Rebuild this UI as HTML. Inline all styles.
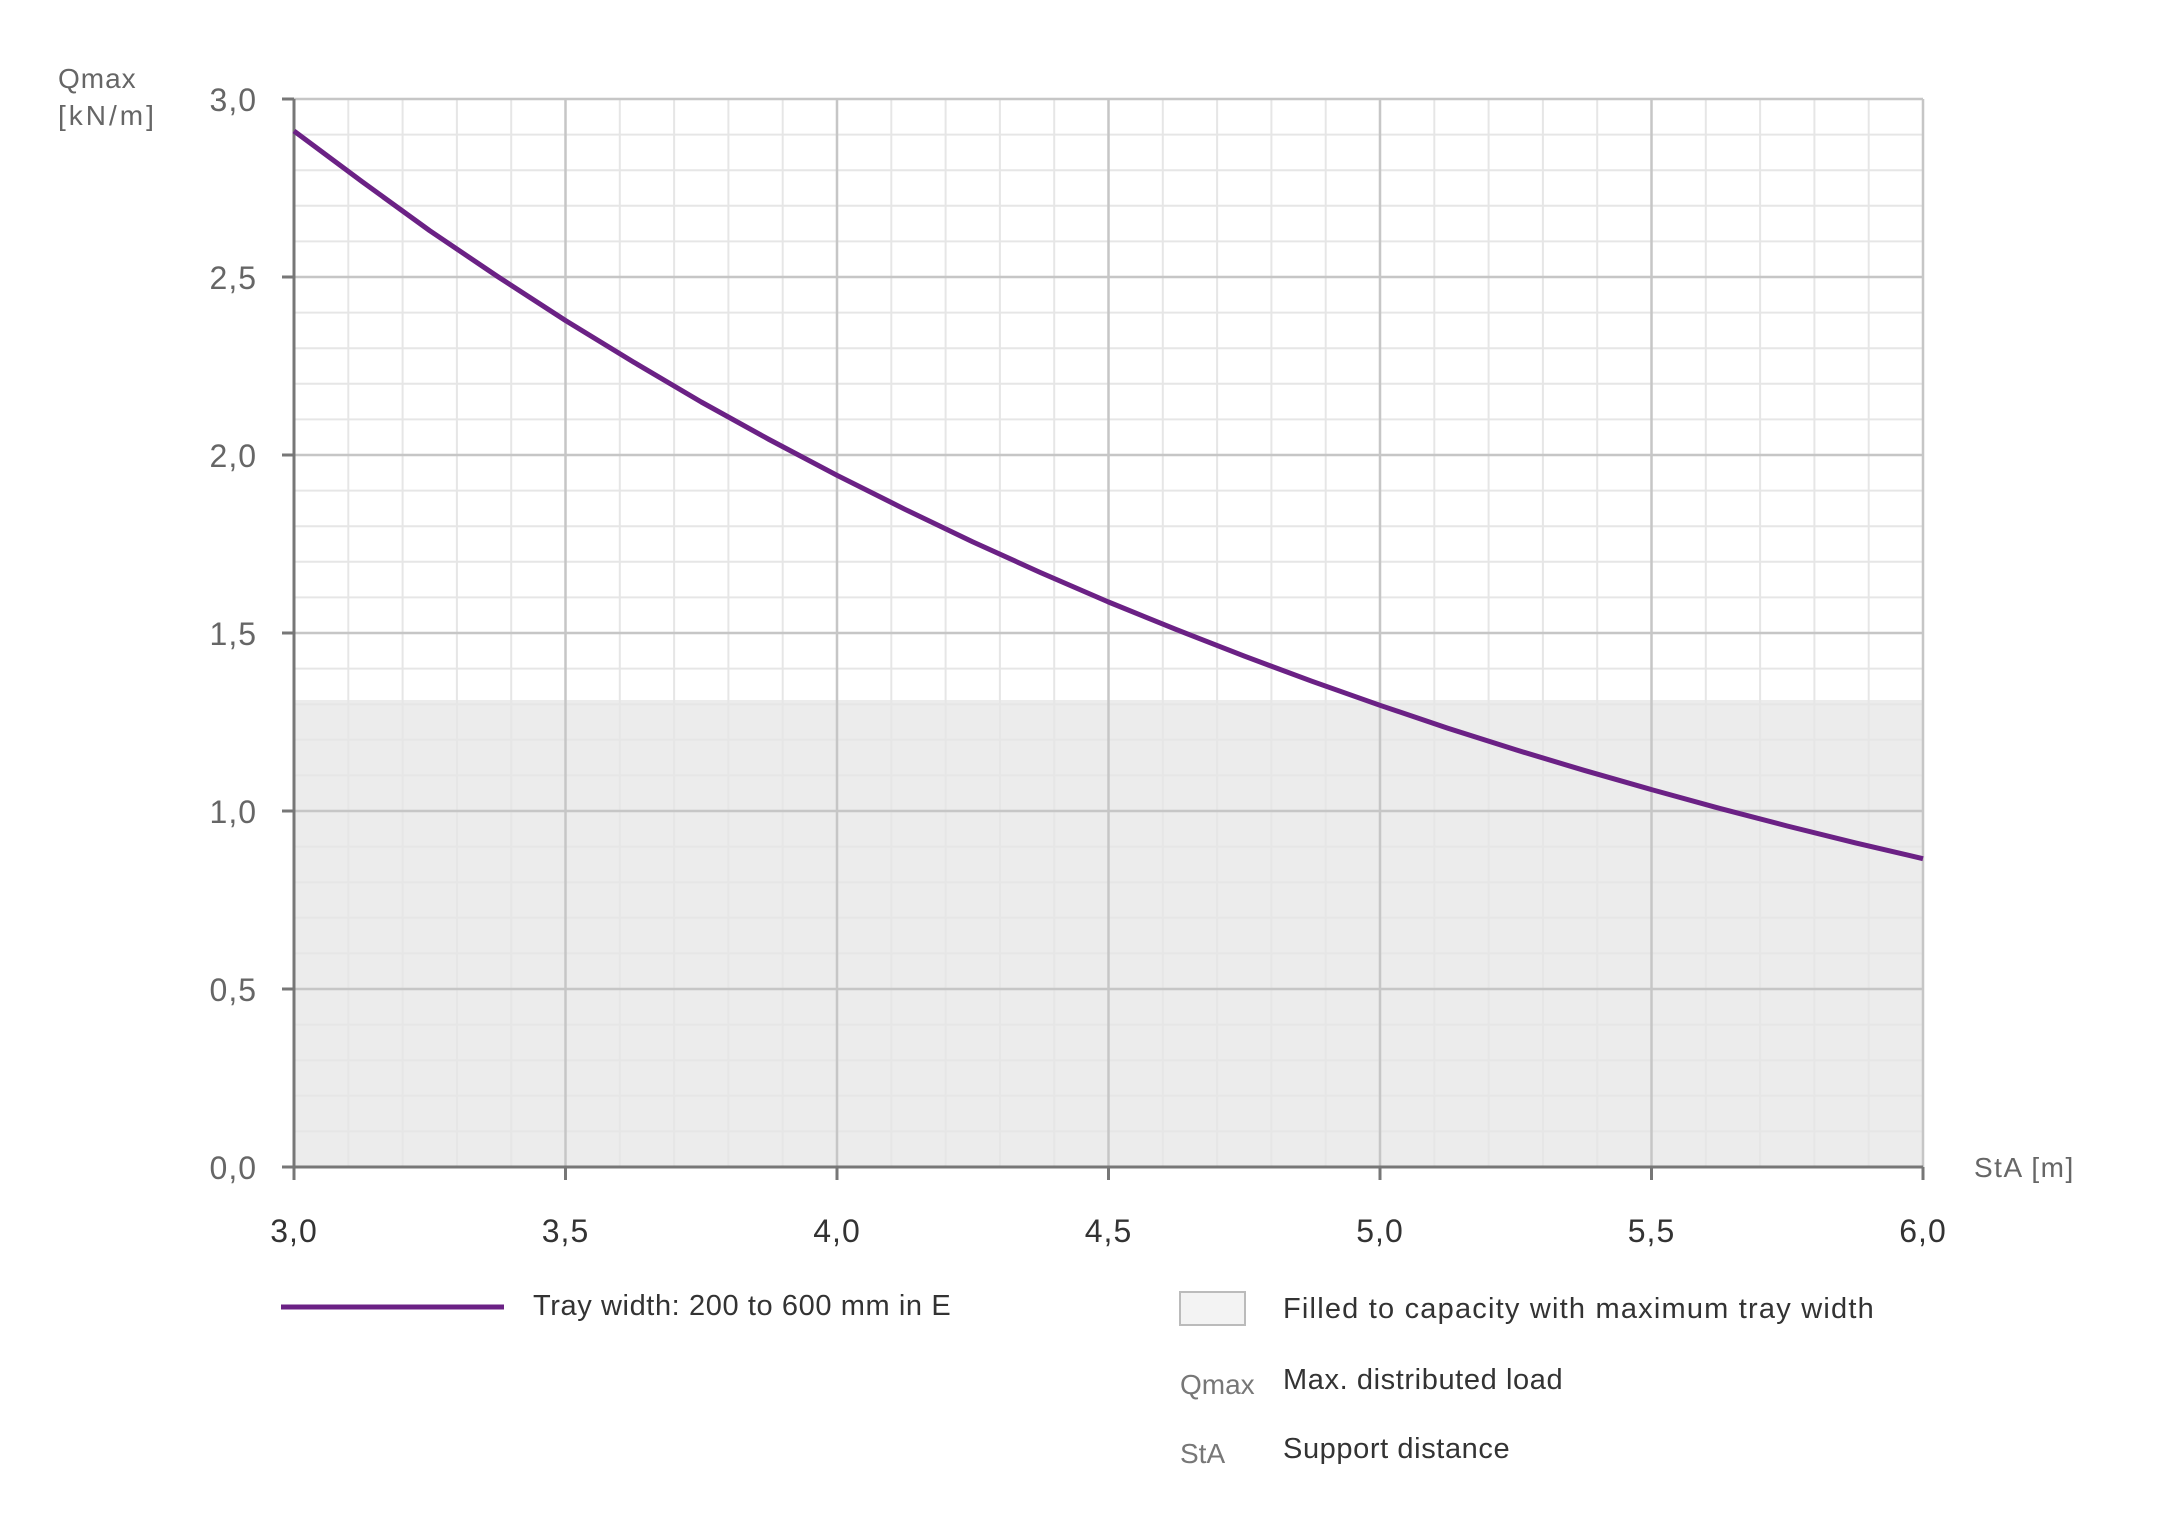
<!DOCTYPE html>
<html><head><meta charset="utf-8"><style>
html,body{margin:0;padding:0;background:#fff;}
svg{display:block;}
text{font-family:"Liberation Sans",sans-serif;}
</style></head><body>
<svg width="2160" height="1529" viewBox="0 0 2160 1529" xmlns="http://www.w3.org/2000/svg">
<rect x="0" y="0" width="2160" height="1529" fill="#fff"/>
<rect x="294" y="700" width="1629" height="467" fill="#ececec"/>
<g stroke="#e6e6e6" stroke-width="2">
<line x1="348.3" y1="99" x2="348.3" y2="1167"/><line x1="402.6" y1="99" x2="402.6" y2="1167"/><line x1="456.9" y1="99" x2="456.9" y2="1167"/><line x1="511.2" y1="99" x2="511.2" y2="1167"/>
<line x1="619.8" y1="99" x2="619.8" y2="1167"/><line x1="674.1" y1="99" x2="674.1" y2="1167"/><line x1="728.4" y1="99" x2="728.4" y2="1167"/><line x1="782.7" y1="99" x2="782.7" y2="1167"/>
<line x1="891.3" y1="99" x2="891.3" y2="1167"/><line x1="945.6" y1="99" x2="945.6" y2="1167"/><line x1="999.9" y1="99" x2="999.9" y2="1167"/><line x1="1054.2" y1="99" x2="1054.2" y2="1167"/>
<line x1="1162.8" y1="99" x2="1162.8" y2="1167"/><line x1="1217.1" y1="99" x2="1217.1" y2="1167"/><line x1="1271.4" y1="99" x2="1271.4" y2="1167"/><line x1="1325.7" y1="99" x2="1325.7" y2="1167"/>
<line x1="1434.3" y1="99" x2="1434.3" y2="1167"/><line x1="1488.6" y1="99" x2="1488.6" y2="1167"/><line x1="1542.9" y1="99" x2="1542.9" y2="1167"/><line x1="1597.2" y1="99" x2="1597.2" y2="1167"/>
<line x1="1705.8" y1="99" x2="1705.8" y2="1167"/><line x1="1760.1" y1="99" x2="1760.1" y2="1167"/><line x1="1814.4" y1="99" x2="1814.4" y2="1167"/><line x1="1868.7" y1="99" x2="1868.7" y2="1167"/>
<line x1="294" y1="134.6" x2="1923" y2="134.6"/><line x1="294" y1="170.2" x2="1923" y2="170.2"/><line x1="294" y1="205.8" x2="1923" y2="205.8"/><line x1="294" y1="241.4" x2="1923" y2="241.4"/>
<line x1="294" y1="312.6" x2="1923" y2="312.6"/><line x1="294" y1="348.2" x2="1923" y2="348.2"/><line x1="294" y1="383.8" x2="1923" y2="383.8"/><line x1="294" y1="419.4" x2="1923" y2="419.4"/>
<line x1="294" y1="490.6" x2="1923" y2="490.6"/><line x1="294" y1="526.2" x2="1923" y2="526.2"/><line x1="294" y1="561.8" x2="1923" y2="561.8"/><line x1="294" y1="597.4" x2="1923" y2="597.4"/>
<line x1="294" y1="668.6" x2="1923" y2="668.6"/><line x1="294" y1="704.2" x2="1923" y2="704.2"/><line x1="294" y1="739.8" x2="1923" y2="739.8"/><line x1="294" y1="775.4" x2="1923" y2="775.4"/>
<line x1="294" y1="846.6" x2="1923" y2="846.6"/><line x1="294" y1="882.2" x2="1923" y2="882.2"/><line x1="294" y1="917.8" x2="1923" y2="917.8"/><line x1="294" y1="953.4" x2="1923" y2="953.4"/>
<line x1="294" y1="1024.6" x2="1923" y2="1024.6"/><line x1="294" y1="1060.2" x2="1923" y2="1060.2"/><line x1="294" y1="1095.8" x2="1923" y2="1095.8"/><line x1="294" y1="1131.4" x2="1923" y2="1131.4"/>
</g>
<g stroke="#c6c6c6" stroke-width="2.5">
<line x1="565.5" y1="99" x2="565.5" y2="1167"/><line x1="837" y1="99" x2="837" y2="1167"/><line x1="1108.5" y1="99" x2="1108.5" y2="1167"/><line x1="1380" y1="99" x2="1380" y2="1167"/><line x1="1651.5" y1="99" x2="1651.5" y2="1167"/><line x1="1923" y1="99" x2="1923" y2="1167"/>
<line x1="294" y1="99" x2="1923" y2="99"/><line x1="294" y1="277" x2="1923" y2="277"/><line x1="294" y1="455" x2="1923" y2="455"/><line x1="294" y1="633" x2="1923" y2="633"/><line x1="294" y1="811" x2="1923" y2="811"/><line x1="294" y1="989" x2="1923" y2="989"/>
</g>
<g stroke="#777" stroke-width="3">
<line x1="294" y1="99" x2="294" y2="1180"/><line x1="282" y1="1167" x2="1923" y2="1167"/>
<line x1="282" y1="99" x2="294" y2="99"/><line x1="282" y1="277" x2="294" y2="277"/><line x1="282" y1="455" x2="294" y2="455"/><line x1="282" y1="633" x2="294" y2="633"/><line x1="282" y1="811" x2="294" y2="811"/><line x1="282" y1="989" x2="294" y2="989"/>
<line x1="565.5" y1="1167" x2="565.5" y2="1180"/><line x1="837" y1="1167" x2="837" y2="1180"/><line x1="1108.5" y1="1167" x2="1108.5" y2="1180"/><line x1="1380" y1="1167" x2="1380" y2="1180"/><line x1="1651.5" y1="1167" x2="1651.5" y2="1180"/><line x1="1923" y1="1167" x2="1923" y2="1180"/>
</g>
<polyline fill="none" stroke="#6b2185" stroke-width="5" stroke-linejoin="round" points="294,131 361.9,181.5 429.75,230.7 497.6,276.5 565.5,320.5 633.4,362 701.25,402 769.1,439.5 837,475.3 904.9,509.3 972.75,541.9 1040.6,572.6 1108.5,602 1176.4,629.6 1244.25,656.1 1312.1,681.3 1380,705.3 1447.9,728.2 1515.75,749.8 1583.6,770.2 1651.5,789.6 1719.4,808.3 1787.25,826 1855.1,842.8 1923,858.7"/>
<g fill="#666" font-size="32" text-anchor="end" letter-spacing="1">
<text x="257" y="111">3,0</text><text x="257" y="289">2,5</text><text x="257" y="467">2,0</text><text x="257" y="645">1,5</text><text x="257" y="823">1,0</text><text x="257" y="1001">0,5</text><text x="257" y="1179">0,0</text>
</g>
<g fill="#333" font-size="32" text-anchor="middle" letter-spacing="1">
<text x="294" y="1242">3,0</text><text x="565.5" y="1242">3,5</text><text x="837" y="1242">4,0</text><text x="1108.5" y="1242">4,5</text><text x="1380" y="1242">5,0</text><text x="1651.5" y="1242">5,5</text><text x="1923" y="1242">6,0</text>
</g>
<g fill="#666" font-size="28">
<text x="58" y="88" letter-spacing="1">Qmax</text><text x="58" y="125" letter-spacing="3">[kN/m]</text>
<text x="1974" y="1177" letter-spacing="1.5">StA [m]</text>
</g>
<line x1="281" y1="1307" x2="504" y2="1307" stroke="#6b2185" stroke-width="5"/>
<rect x="1180" y="1292" width="65" height="33" fill="#f3f3f3" stroke="#bbb" stroke-width="2"/>
<g fill="#333" font-size="29" letter-spacing="0.6">
<text x="533" y="1315">Tray width: 200 to 600 mm in E</text>
<text x="1283" y="1318" letter-spacing="1.2">Filled to capacity with maximum tray width</text>
<text x="1283" y="1389">Max. distributed load</text>
<text x="1283" y="1458">Support distance</text>
</g>
<g fill="#777" font-size="28">
<text x="1180" y="1394">Qmax</text>
<text x="1180" y="1463">StA</text>
</g>
</svg>
</body></html>
